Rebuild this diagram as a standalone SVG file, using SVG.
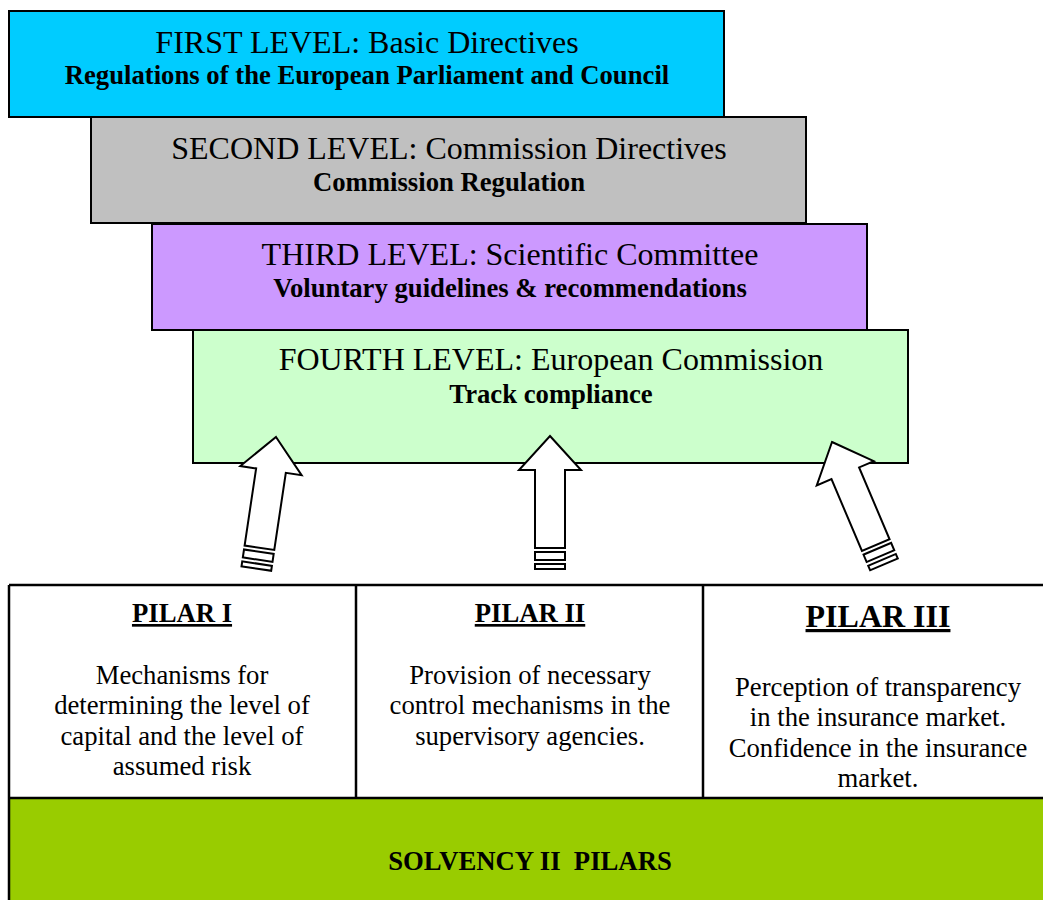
<svg xmlns="http://www.w3.org/2000/svg" width="1043" height="900" viewBox="0 0 1043 900">
<style>
.box{stroke:#000;stroke-width:2}
.t{font-family:"Liberation Serif","Times New Roman",serif;text-anchor:middle;fill:#000}
.big{font-size:32px}
.sm{font-size:26.7px}
.b{font-weight:bold}
.u{text-decoration:underline}
.ln{stroke:#000;stroke-width:2.5;fill:none}
.arr{fill:#fff;stroke:#000;stroke-width:2;stroke-linejoin:miter}
</style>
<defs>
<g id="blockArrow">
<path class="arr" d="M0,0 L31,34 L15,34 L15,112 L-15,112 L-15,34 L-31,34 Z"/>
<rect class="arr" x="-15" y="116" width="30" height="8"/>
<rect class="arr" x="-15" y="128" width="30" height="5"/>
</g>
</defs>
<rect width="1043" height="900" fill="#fff"/>

<g id="level1">
<rect class="box" x="9" y="11" width="715" height="106" fill="#00CCFF"/>
<text class="t big" x="367" y="53">FIRST LEVEL: Basic Directives</text>
<text class="t sm b" x="367" y="84">Regulations of the European Parliament and Council</text>
</g>
<g id="level2">
<rect class="box" x="91" y="117" width="715" height="106" fill="#C0C0C0"/>
<text class="t big" x="449" y="159">SECOND LEVEL: Commission Directives</text>
<text class="t sm b" x="449" y="191">Commission Regulation</text>
</g>
<g id="level3">
<rect class="box" x="152" y="224" width="715" height="106" fill="#CC99FF"/>
<text class="t big" x="510" y="265">THIRD LEVEL: Scientific Committee</text>
<text class="t sm b" x="510" y="297">Voluntary guidelines &amp; recommendations</text>
</g>
<g id="level4">
<rect class="box" x="193" y="330" width="715" height="133" fill="#CCFFCC"/>
<text class="t big" x="551" y="370">FOURTH LEVEL: European Commission</text>
<text class="t sm b" x="551" y="403">Track compliance</text>
</g>

<g id="connectors">
<use href="#blockArrow" transform="translate(276,437) rotate(8.5)"/>
<use href="#blockArrow" transform="translate(550,436)"/>
<use href="#blockArrow" transform="translate(832,442) rotate(-23)"/>
</g>

<g id="solvency">
<rect x="9" y="798" width="1040" height="110" fill="#99CC00"/>
<text class="t sm b" x="530" y="870" xml:space="preserve">SOLVENCY II  PILARS</text>
</g>

<g id="table-lines">
<path class="ln" d="M9,585 H1045 M9,585 V900 M356,585 V798 M703,585 V798 M9,798 H1045"/>
</g>

<g id="pilar1">
<text class="t sm b u" x="182" y="622">PILAR I</text>
<text class="t sm" x="182" y="684">Mechanisms for</text>
<text class="t sm" x="182" y="714">determining the level of</text>
<text class="t sm" x="182" y="745">capital and the level of</text>
<text class="t sm" x="182" y="775">assumed risk</text>
</g>
<g id="pilar2">
<text class="t sm b u" x="530" y="622">PILAR II</text>
<text class="t sm" x="530" y="684">Provision of necessary</text>
<text class="t sm" x="530" y="714">control mechanisms in the</text>
<text class="t sm" x="530" y="745">supervisory agencies.</text>
</g>
<g id="pilar3">
<text class="t big b u" x="878" y="627">PILAR III</text>
<text class="t sm" x="878" y="696">Perception of transparency</text>
<text class="t sm" x="878" y="726">in the insurance market.</text>
<text class="t sm" x="878" y="757">Confidence in the insurance</text>
<text class="t sm" x="878" y="787">market.</text>
</g>
</svg>
